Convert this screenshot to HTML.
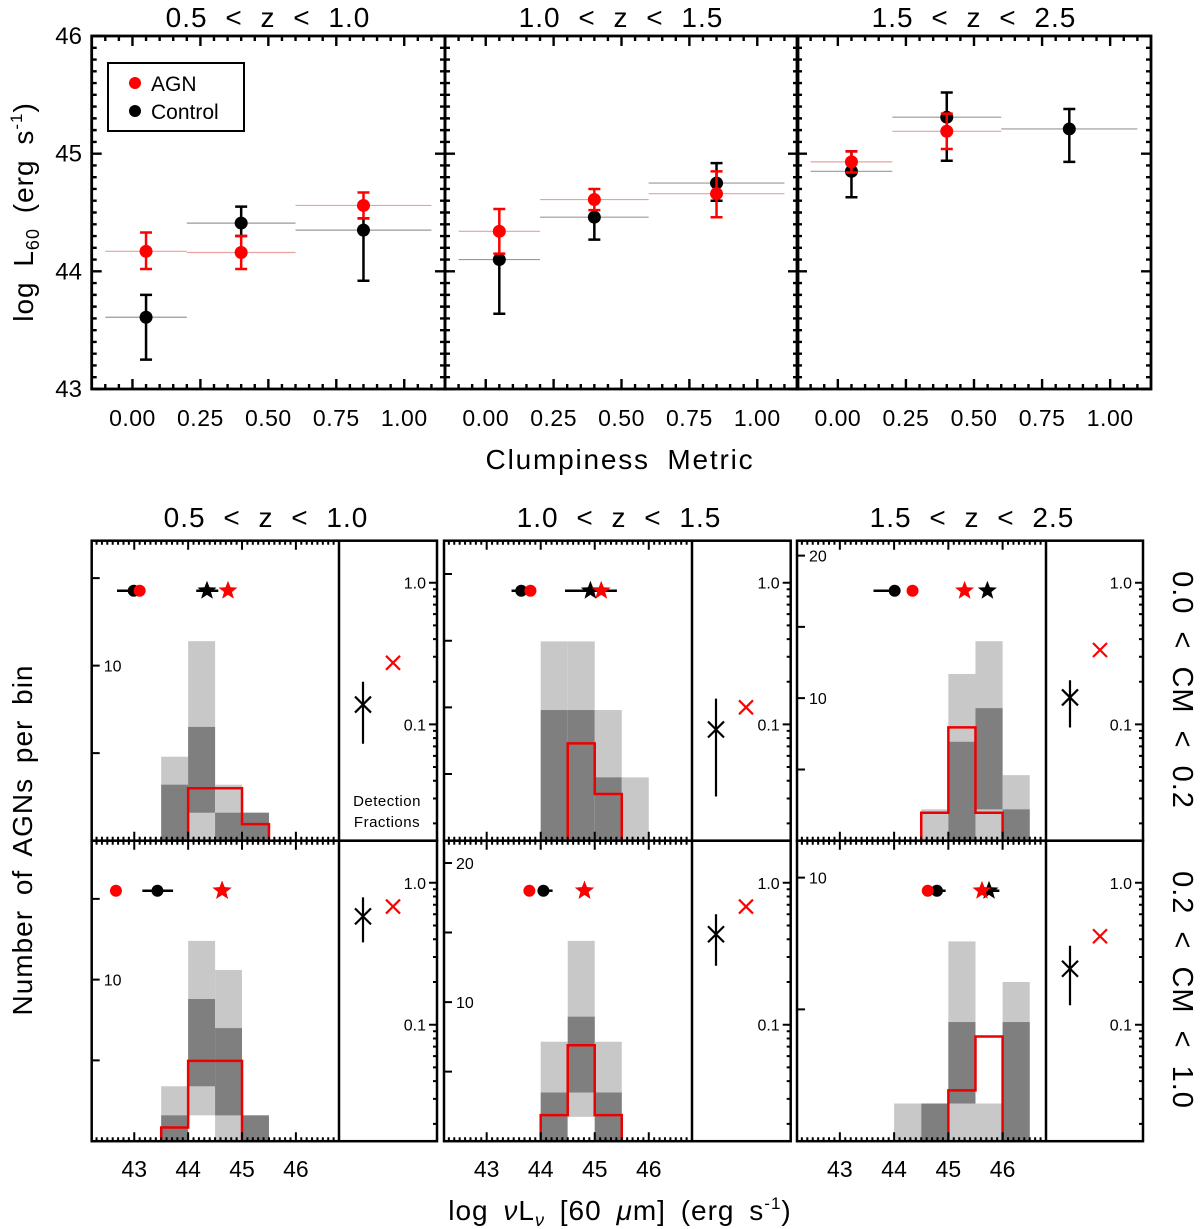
<!DOCTYPE html>
<html><head><meta charset="utf-8"><style>
html,body{margin:0;padding:0;background:#fff;}
svg{display:block;font-family:"Liberation Sans",sans-serif;}
</style></head><body>
<svg id="fig" width="1200" height="1229" viewBox="0 0 1200 1229" xmlns="http://www.w3.org/2000/svg">
<rect width="1200" height="1229" fill="#fff"/>
<g id="texts" font-family="Liberation Sans, sans-serif" fill="#000">
<text x="268" y="27" font-size="28" text-anchor="middle" word-spacing="9" letter-spacing="1">0.5 &lt; z &lt; 1.0</text>
<text x="621" y="27" font-size="28" text-anchor="middle" word-spacing="9" letter-spacing="1">1.0 &lt; z &lt; 1.5</text>
<text x="974" y="27" font-size="28" text-anchor="middle" word-spacing="9" letter-spacing="1">1.5 &lt; z &lt; 2.5</text>
<text transform="translate(33,212) rotate(-90)" font-size="28" text-anchor="middle" word-spacing="6" letter-spacing="1">log L<tspan font-size="18" dy="6">60</tspan><tspan dy="-6"> (erg s</tspan><tspan font-size="17" dy="-11">-1</tspan><tspan dy="11">)</tspan></text>
<text x="620" y="469" font-size="28" text-anchor="middle" word-spacing="8" letter-spacing="1.8">Clumpiness Metric</text>
<text x="266" y="527" font-size="28" text-anchor="middle" word-spacing="9" letter-spacing="1">0.5 &lt; z &lt; 1.0</text>
<text x="619" y="527" font-size="28" text-anchor="middle" word-spacing="9" letter-spacing="1">1.0 &lt; z &lt; 1.5</text>
<text x="972" y="527" font-size="28" text-anchor="middle" word-spacing="9" letter-spacing="1">1.5 &lt; z &lt; 2.5</text>
<text transform="translate(32,840) rotate(-90)" font-size="28" text-anchor="middle" word-spacing="6" letter-spacing="1">Number of AGNs per bin</text>
<text x="620" y="1220" font-size="28" text-anchor="middle" word-spacing="6" letter-spacing="1">log <tspan font-style="italic">ν</tspan>L<tspan font-size="18" dy="6" font-style="italic">ν</tspan><tspan dy="-6"> [60 </tspan><tspan font-style="italic">μ</tspan>m] (erg s<tspan font-size="17" dy="-11">-1</tspan><tspan dy="11">)</tspan></text>
<text transform="translate(1173,690) rotate(90)" font-size="29" text-anchor="middle" word-spacing="8" letter-spacing="1">0.0 &lt; CM &lt; 0.2</text>
<text transform="translate(1173,990) rotate(90)" font-size="29" text-anchor="middle" word-spacing="8" letter-spacing="1">0.2 &lt; CM &lt; 1.0</text>
<text x="387" y="806" font-size="15" text-anchor="middle" letter-spacing="0.5">Detection</text>
<text x="387" y="827" font-size="15" text-anchor="middle" letter-spacing="0.5">Fractions</text>
</g>
<g id="plots"></g>
<g>
<rect x="108" y="63" width="136" height="68" fill="#fff" stroke="#000" stroke-width="2"/>
<circle cx="135" cy="83" r="6" fill="#f00"/>
<text x="151" y="91" font-size="21">AGN</text>
<circle cx="135" cy="111" r="6" fill="#000"/>
<text x="151" y="119" font-size="21">Control</text>
</g>
</svg>
<script>
// ---------- TOP PANEL DATA ----------
const cmCenters = [0.05, 0.40, 0.85];
const cmBinLo = [-0.1, 0.2, 0.6];
const cmBinHi = [0.2, 0.6, 1.1];
const agnL60 = [[44.17,44.16,44.56],[44.34,44.61,44.66],[44.93,45.19,null]];
const agnLo  = [[44.02,44.02,44.45],[44.15,44.52,44.46],[44.84,45.04,null]];
const agnHi  = [[44.33,44.30,44.67],[44.53,44.70,44.85],[45.02,45.34,null]];
const ctlL60 = [[43.61,44.41,44.35],[44.10,44.46,44.75],[44.85,45.31,45.21]];
const ctlLo  = [[43.25,44.30,43.92],[43.64,44.27,44.60],[44.63,44.94,44.93]];
const ctlHi  = [[43.80,44.55,44.45],[44.10,44.46,44.92],[45.02,45.52,45.38]];
const topYTicks = [43,44,45,46];
const topXTicks = [0,0.25,0.5,0.75,1.0];
const topXLabels = ["0.00","0.25","0.50","0.75","1.00"];

// ---------- BOTTOM PANEL DATA (index = row*3+col) ----------
const histBinStart = [[43.5,44,44.5,45],[44,44.5,45,45.5],[44.5,45,45.5,46],
                      [43.5,44,44.5,45],[44,44.5,45],[44,44.5,45,45.5,46]];
const histLight = [[4.8,11.4,3.2,1.6],[2.99,2.99,1.96,0.95],[2.2,11.7,14.0,4.6],
                   [3.4,12.4,10.6,1.6],[7.15,14.4,7.15],[1.43,0,7.58,1.43,6.04]];
const histDarkLo = [[0,1.6,0,0],[0,0,0,0],[0,0,2.2,0],
                    [0,3.4,1.6,0],[0,3.5,0],[0,0,1.43,0,0]];
const histDarkHi = [[3.2,6.5,1.6,1.6],[1.96,1.96,0.95,0],[0,6.94,9.3,2.2],
                    [1.6,8.8,7.0,1.6],[3.5,8.95,3.5],[0,1.43,4.52,0,4.52]];
const histWhite = [[0,0,0,0],[0,0,0,0],[0,0,0,0],[0,1.6,0,0],[0,1.75,0],[0,0,0,0,0]];
const histAgn = [[0,3.0,3.0,0.95],[0,1.46,0.7,0],[1.96,7.95,1.96,0],
                 [0.85,4.97,4.97,0],[1.87,6.9,1.87],[0,0,1.93,3.97,0]];
const histYMax = [17.14,4.5,21.05,18.6,21.6,11.4];
const histYLabels = [[10],[],[10,20],[10],[10,20],[10]];
const histYTickStep = [5,1,5,5,5,5];
const ctlMeanLum = [42.99,43.64,44.01,43.43,44.05,44.79];
const ctlMeanLo  = [42.68,43.46,43.62,43.15,44.05,44.79];
const ctlMeanHi  = [42.99,43.64,44.01,43.72,44.22,44.95];
const agnMeanLum = [43.10,43.81,44.34,42.66,43.79,44.62];
const ctlDetLum  = [44.35,44.92,45.72,44.63,44.81,45.75];
const ctlDetLo   = [44.15,44.45,45.72,44.63,44.81,45.75];
const ctlDetHi   = [44.56,45.41,45.72,44.63,44.81,45.94];
const agnDetLum  = [44.74,45.12,45.30,44.63,44.81,45.62];
const ctlFrac   = [0.138,0.092,0.155,0.58,0.434,0.248];
const ctlFracLo = [0.073,0.031,0.095,0.38,0.26,0.137];
const ctlFracHi = [0.20,0.152,0.205,0.79,0.60,0.36];
const agnFrac   = [0.272,0.132,0.335,0.68,0.68,0.42];
const lumTicks = [43,44,45,46];

// ---------- GEOMETRY ----------
const NS = "http://www.w3.org/2000/svg";
const plots = document.getElementById('plots');
function el(tag, attrs, parent){
  const e = document.createElementNS(NS, tag);
  for (const k in attrs) e.setAttribute(k, attrs[k]);
  (parent||plots).appendChild(e);
  return e;
}
const topX0 = [91.7,445,797], topX1 = [445,798,1151];
const topY0 = 36, topY1 = 389;
const TXMIN=-0.15, TXMAX=1.15, TYMIN=43, TYMAX=46;
function txs(p,v){return topX0[p]+(v-TXMIN)/(TXMAX-TXMIN)*(topX1[p]-topX0[p]);}
function tys(v){return topY1-(v-TYMIN)/(TYMAX-TYMIN)*(topY1-topY0);}

function star(cx,cy,r,fill,g){
  let pts=[];
  for(let i=0;i<10;i++){const a=-Math.PI/2+i*Math.PI/5;const rr=i%2?r*0.42:r;pts.push((cx+rr*Math.cos(a)).toFixed(1)+','+(cy+rr*Math.sin(a)).toFixed(1));}
  return el('polygon',{points:pts.join(' '),fill:fill},g);
}

// ---------- TOP PANELS ----------
for(let p=0;p<3;p++){
  const g = el('g',{});
  
  
  for(let i=0;i<3;i++){
    if(agnL60[p][i]!==null){
      const l=el('line',{x1:txs(p,cmBinLo[i]),x2:txs(p,cmBinHi[i]),y1:tys(agnL60[p][i]),y2:tys(agnL60[p][i]),stroke:'#e8a0a0','stroke-width':1.2},g);
      
      
    }
    const l2=el('line',{x1:txs(p,cmBinLo[i]),x2:txs(p,cmBinHi[i]),y1:tys(ctlL60[p][i]),y2:tys(ctlL60[p][i]),stroke:'#999','stroke-width':1.2},g);
    
    
  }
  for(let i=0;i<3;i++){
    const x=txs(p,cmCenters[i]);
    const e=el('path',{d:`M${x},${tys(ctlLo[p][i])}V${tys(ctlHi[p][i])}M${x-6},${tys(ctlLo[p][i])}h12M${x-6},${tys(ctlHi[p][i])}h12`,stroke:'#000','stroke-width':2.5,fill:'none'},g);
    
    
    const c=el('circle',{cx:x,cy:tys(ctlL60[p][i]),r:6.5,fill:'#000'},g);
    
    
  }
  for(let i=0;i<3;i++){
    if(agnL60[p][i]===null) continue;
    const x=txs(p,cmCenters[i]);
    const e=el('path',{d:`M${x},${tys(agnLo[p][i])}V${tys(agnHi[p][i])}M${x-6},${tys(agnLo[p][i])}h12M${x-6},${tys(agnHi[p][i])}h12`,stroke:'#f00','stroke-width':2.5,fill:'none'},g);
    
    
    const c=el('circle',{cx:x,cy:tys(agnL60[p][i]),r:6.5,fill:'#f00'},g);
    
    
  }
  el('rect',{x:topX0[p],y:topY0,width:topX1[p]-topX0[p],height:topY1-topY0,fill:'none',stroke:'#000','stroke-width':2.8},g);
  let d='';
  for(let k=-3;k<=23;k++){const v=k*0.05;if(v<TXMIN||v>TXMAX)continue;const x=txs(p,v);const L=(k%5===0)?10:5;d+=`M${x},${topY1}v${-L}M${x},${topY0}v${L}`;}
  for(let k=0;k<=30;k++){const v=43+k*0.1;const y=tys(v);const L=(k%10===0)?10:5;d+=`M${topX0[p]},${y}h${L}M${topX1[p]},${y}h${-L}`;}
  el('path',{d:d,stroke:'#000','stroke-width':2.4},g);
  topXTicks.forEach((v,i)=>{
    const t=el('text',{x:txs(p,v),y:426,'font-size':23,'text-anchor':'middle','letter-spacing':0.5},g);
    t.textContent=topXLabels[i];
    
    
  });
  if(p===0){
    topYTicks.forEach(v=>{
      const t=el('text',{x:82,y:tys(v)+8,'font-size':24,'text-anchor':'end'},g);
      t.textContent=String(v);
      
      
    });
  }
}

// ---------- BOTTOM PANELS ----------
const hX0=[91.7,444,797], hX1=[339,692,1046], fX1=[437,790.7,1143];
const rY0=[540.7,840.7], rY1=[840.7,1141.2];
const LXMIN=42.21, LXMAX=46.8;
const FMIN=Math.log10(0.0151), FMAX=Math.log10(1.98);
for(let idx=0;idx<6;idx++){
  const r=Math.floor(idx/3), c=idx%3;
  const X0=hX0[c],X1=hX1[c],Y0=rY0[r],Y1=rY1[r],FX=fX1[c];
  const xs=v=>X0+(v-LXMIN)/(LXMAX-LXMIN)*(X1-X0);
  const ys=v=>Y1-v/histYMax[idx]*(Y1-Y0);
  const fy=v=>Y1-(Math.log10(v)-FMIN)/(FMAX-FMIN)*(Y1-Y0);
  const g=el('g',{});
  
  
  const bins=histBinStart[idx];
  bins.forEach((b,i)=>{
    const xa=xs(b), w=xs(b+0.5)-xa;
    if(histLight[idx][i]>0){
      const e=el('rect',{x:xa,y:ys(histLight[idx][i]),width:w,height:Y1-ys(histLight[idx][i]),fill:'#c8c8c8'},g);
      
      
    }
    if(histDarkHi[idx][i]>histDarkLo[idx][i]){
      const e=el('rect',{x:xa,y:ys(histDarkHi[idx][i]),width:w,height:ys(histDarkLo[idx][i])-ys(histDarkHi[idx][i]),fill:'#7f7f7f'},g);
      
      
    }
    if(histWhite[idx][i]>0){
      el('rect',{x:xa,y:ys(histWhite[idx][i]),width:w,height:Y1-ys(histWhite[idx][i]),fill:'#fff'},g);
    }
  });
  let first=-1,last=-1;
  histAgn[idx].forEach((v,i)=>{if(v>0){if(first<0)first=i;last=i;}});
  if(first>=0){
    let d=`M${xs(bins[first])},${Y1}`;
    for(let i=first;i<=last;i++){d+=`V${ys(histAgn[idx][i])}H${xs(bins[i]+0.5)}`;}
    d+=`V${Y1}`;
    const e=el('path',{d:d,fill:'none',stroke:'#e00','stroke-width':2.5},g);
    
    
  }
  const my = Y0+50;
  let e=el('path',{d:`M${xs(ctlMeanLo[idx])},${my}H${xs(ctlMeanHi[idx])}M${xs(ctlDetLo[idx])},${my}H${xs(ctlDetHi[idx])}`,stroke:'#000','stroke-width':2.5},g);
  
  
  e=el('circle',{cx:xs(ctlMeanLum[idx]),cy:my,r:6,fill:'#000'},g);
  
  
  e=el('circle',{cx:xs(agnMeanLum[idx]),cy:my,r:6,fill:'#f00'},g);
  
  
  e=star(xs(ctlDetLum[idx]),my,10,'#000',g);
  
  
  e=star(xs(agnDetLum[idx]),my,10,'#f00',g);
  
  
  el('rect',{x:X0,y:Y0,width:FX-X0,height:Y1-Y0,fill:'none',stroke:'#000','stroke-width':2.5},g);
  el('line',{x1:X1,x2:X1,y1:Y0,y2:Y1,stroke:'#000','stroke-width':2.5},g);
  let d='';
  for(let k=0;k<=46;k++){const v=42.3+k*0.1;const x=xs(v);if(x<X0||x>X1)continue;const maj=Math.abs(v-Math.round(v))<0.01;const L=maj?9:4;d+=`M${x},${Y1}v${-L}M${x},${Y0}v${L}`;}
  for(let v=histYTickStep[idx];v<histYMax[idx];v+=histYTickStep[idx]){const y=ys(v);d+=`M${X0},${y}h8`;}
  for(let dec=-2;dec<=0;dec++){for(let m=1;m<=9;m++){const v=m*Math.pow(10,dec);if(v<0.0151||v>1.98)continue;const y=fy(v);d+=`M${FX},${y}h${m===1?-8:-4}`;}}
  el('path',{d:d,stroke:'#000','stroke-width':2},g);
  histYLabels[idx].forEach(v=>{
    const t=el('text',{x:X0+12,y:ys(v)+6,'font-size':16},g);
    t.textContent=String(v);
    
    
  });
  [[1.0,"1.0"],[0.1,"0.1"]].forEach(([v,s])=>{
    const t=el('text',{x:FX-11,y:fy(v)+6,'font-size':16,'text-anchor':'end'},g);
    t.textContent=s;
    
    
  });
  const cx=X1+24, rx=X1+54;
  e=el('path',{d:`M${cx},${fy(ctlFracLo[idx])}V${fy(ctlFracHi[idx])}M${cx-8},${fy(ctlFrac[idx])-8}l16,16M${cx+8},${fy(ctlFrac[idx])-8}l-16,16`,stroke:'#000','stroke-width':2.2,fill:'none'},g);
  
  
  e=el('path',{d:`M${rx-7},${fy(agnFrac[idx])-7}l14,14M${rx+7},${fy(agnFrac[idx])-7}l-14,14`,stroke:'#f00','stroke-width':2.2,fill:'none'},g);
  
  
  if(r===1){
    lumTicks.forEach(v=>{
      const t=el('text',{x:xs(v),y:1177,'font-size':23,'text-anchor':'middle'},g);
      t.textContent=String(v);
      
      
    });
  }
}
</script>
</body></html>
